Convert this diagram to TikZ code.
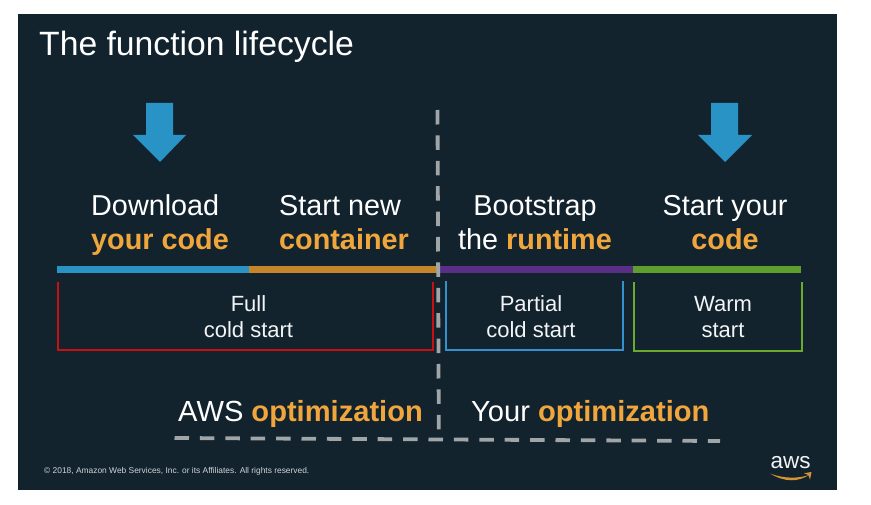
\documentclass[tikz,border=0pt]{standalone}
\usepackage{fontspec}
\setmainfont{Liberation Sans}
\definecolor{panel}{HTML}{12232E}
\definecolor{hl}{HTML}{F0A63C}
\definecolor{arrowblue}{HTML}{2A93C6}
\definecolor{barorange}{HTML}{C5862B}
\definecolor{barpurple}{HTML}{5A2D86}
\definecolor{bargreen}{HTML}{5E9E2E}
\definecolor{brred}{HTML}{C81010}
\definecolor{brblue}{HTML}{3590D0}
\definecolor{brgreen}{HTML}{6AAA2E}
\definecolor{dashgray}{HTML}{A0A5A8}
\definecolor{txt}{HTML}{F2F4F5}
\tikzset{
  x=1pt,y=-1pt,
  head/.style={font=\fontsize{28.8}{34.5}\selectfont,text=white,inner sep=0pt},
  boxlabel/.style={font=\fontsize{22}{26.5}\selectfont,text=txt,align=center,inner sep=0pt},
  opt/.style={font=\fontsize{29.1}{34}\selectfont,text=white,inner sep=0pt,anchor=base west},
  bar/.style={line width=7pt},
  bracket/.style={line width=2pt,line join=miter},
  divider/.style={dashgray,line width=3.8pt,dash pattern=on 14.5pt off 10.9pt},
  bigarrow/.style={fill=arrowblue,draw=none},
}
\newcommand{\hlb}[1]{\textcolor{hl}{\textbf{#1}}}
\begin{document}
\begin{tikzpicture}
\useasboundingbox (0,0) rectangle (871,505);
\fill[panel] (18,14) rectangle (837,490);
\node[inner sep=0pt,anchor=base west,text=white,font=\fontsize{33.7}{38}\selectfont] (title) at (39,55.8) {The function lifecycle};
\fill[bigarrow] (146,103) -- (173,103) -- (173,135) -- (186,135) -- (160,162) -- (133,135) -- (146,135) -- cycle;
\fill[bigarrow] (711,103) -- (738,103) -- (738,135) -- (752,135) -- (725,162) -- (698,135) -- (711,135) -- cycle;
\node[head,align=left,anchor=west] (h1) at (91,225.8) {\strut Download\\\strut\hlb{your code}};
\node[head,align=left,anchor=west] (h2) at (279,225.8) {\strut Start new\\\strut\hlb{container}};
\node[head,align=center] (h3) at (535,225.8) {\strut Bootstrap\\\strut the \hlb{runtime}};
\node[head,align=center] (h4) at (725,225.8) {\strut Start your\\\strut\hlb{code}};
\coordinate (b0) at (57,269.7);
\coordinate (b1) at (249,269.7);
\coordinate (b2) at (438,269.7);
\coordinate (b3) at (633,269.7);
\coordinate (b4) at (801,269.7);
\draw[bar,arrowblue] (b0) -- (b1);
\draw[bar,barorange] (b1) -- (b2);
\draw[bar,barpurple] (b2) -- (b3);
\draw[bar,bargreen] (b3) -- (b4);
\coordinate (r1) at (57.5,282); \coordinate (r2) at (57.5,350); \coordinate (r3) at (432.7,350); \coordinate (r4) at (432.7,282);
\coordinate (u1) at (445.5,281.5); \coordinate (u2) at (445.5,350); \coordinate (u3) at (622.7,350); \coordinate (u4) at (622.7,281.5);
\coordinate (g1) at (633.5,282.5); \coordinate (g2) at (633.5,351.3); \coordinate (g3) at (801.5,351.3); \coordinate (g4) at (801.5,282.5);
\draw[bracket,brred] (r1) -- (r2) -- (r3) -- (r4);
\draw[bracket,brblue] (u1) -- (u2) -- (u3) -- (u4);
\draw[bracket,brgreen] (g1) -- (g2) -- (g3) -- (g4);
\node[boxlabel] (l1) at (248.5,319.2) {\strut Full\\\strut cold start};
\node[boxlabel] (l2) at (531,319.2) {\strut Partial\\\strut cold start};
\node[boxlabel] (l3) at (723,319.2) {\strut Warm\\\strut start};
\node[opt] (o1) at (178,421) {AWS \hlb{optimization}};
\node[opt] (o2) at (471,421) {Your \hlb{optimization}};
\coordinate (v1) at (437.5,110); \coordinate (v2) at (438.8,430);
\coordinate (w1) at (174.5,438); \coordinate (w2) at (720,441);
\draw[divider] (v1) -- (v2);
\draw[divider] (w1) -- (w2);
\node[inner sep=0pt,anchor=base west,text=txt!85!panel,font=\fontsize{8.4}{10}\selectfont] (copy) at (44,473) {© 2018, Amazon Web Services, Inc. or its Affiliates. All rights reserved.};
\node[inner sep=0pt,anchor=base,text=txt,font=\fontsize{22.5}{26}\selectfont] (aws) at (790.5,468.5) {aws};
\fill[barorange!60!hl] (770,473.5) .. controls (785,482.5) and (798,482) .. (809,475) .. controls (798,478.5) and (785,479) .. (770,473.5) -- cycle;
\fill[barorange!60!hl] (804,473.2) -- (811.5,472) -- (810,479.5) -- (808.3,475) -- cycle;
\end{tikzpicture}
\end{document}
